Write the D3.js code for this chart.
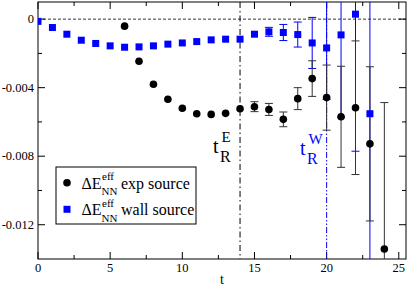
<!DOCTYPE html>
<html><head><meta charset="utf-8">
<script src="https://cdn.jsdelivr.net/npm/d3@7"></script>
<style>body{margin:0;background:#fff}svg{display:block}</style>
</head><body>
<script>
// data
const wallT   = [0,1,2,3,4,5,6,7,8,9,10,11,12,13,14,15,16,17,18,19,20,21,22,23];
const wallVal = [-0.00013,-0.00049,-0.00088,-0.00123,-0.00142,-0.00156,-0.00164,-0.00162,-0.00156,-0.00146,-0.00139,-0.00131,-0.00121,-0.00117,-0.00117,-0.00088,-0.00074,-0.00078,-0.00090,-0.00139,-0.00168,-0.00092,0.00029,-0.00552];
const wallErr = [0.00002,0.00002,0.00002,0.00002,0.00002,0.00003,0.00003,0.00003,0.00004,0.00004,0.00005,0.00005,0.00006,0.00007,0.00008,0.00012,0.00026,0.00047,0.00073,0.00149,0.0030,0.0048,0.0080,0.0095];
const expT   = [6,7,8,9,10,11,12,13,14,15,16,17,18,19,20,21,22,23,24];
const expVal = [-0.00041,-0.00246,-0.0038,-0.00468,-0.0052,-0.00552,-0.00556,-0.0055,-0.00523,-0.00511,-0.00527,-0.00585,-0.00464,-0.00347,-0.00458,-0.00570,-0.00517,-0.00728,-0.01342];
const expErr = [0.00003,0.00004,0.00005,0.00006,0.00007,0.00008,0.0001,0.00012,0.00023,0.00029,0.00035,0.00043,0.00064,0.00104,0.0019,0.00295,0.0039,0.0045,0.00855];
const xTicks = [0,5,10,15,20,25];
const yTicks = [0,-0.004,-0.008,-0.012];
const yTickLabels = ["0","-0.004","-0.008","-0.012"];
const tRE = 14, tRW = 20;

const W = 407, H = 286;
const L = 38, R = 406, T = 2, B = 259;
const FONT = "Liberation Serif";
const svg = d3.select("body").append("svg").attr("width", W).attr("height", H);
const x = d3.scaleLinear().domain([0, 25.5]).range([L, R]);
const y = d3.scaleLinear().domain([-0.014, 0.001]).range([B, T]);
function txt(px, py, size, s, color){
  return svg.append("text").attr("x",px).attr("y",py).attr("font-family",FONT)
    .attr("font-size",size).attr("fill",color||"#000").text(s);
}

svg.append("defs").append("clipPath").attr("id","clip")
  .append("rect").attr("x",L).attr("y",T).attr("width",R-L).attr("height",B-T);

// frame
svg.append("rect").attr("x",L).attr("y",T).attr("width",R-L).attr("height",B-T)
  .attr("fill","none").attr("stroke","#000").attr("stroke-width",1);

// ticks (inward, mirrored)
const xMinor = d3.range(2.5, 25.5, 5);
const yMinor = [-0.002,-0.006,-0.010];
const g = svg.append("g").attr("stroke","#000").attr("stroke-width",1);
xTicks.forEach(v => { g.append("line").attr("x1",x(v)).attr("x2",x(v)).attr("y1",B).attr("y2",B-7);
  g.append("line").attr("x1",x(v)).attr("x2",x(v)).attr("y1",T).attr("y2",T+7); });
xMinor.forEach(v => { g.append("line").attr("x1",x(v)).attr("x2",x(v)).attr("y1",B).attr("y2",B-4);
  g.append("line").attr("x1",x(v)).attr("x2",x(v)).attr("y1",T).attr("y2",T+4); });
yTicks.forEach(v => { g.append("line").attr("y1",y(v)).attr("y2",y(v)).attr("x1",L).attr("x2",L+7);
  g.append("line").attr("y1",y(v)).attr("y2",y(v)).attr("x1",R).attr("x2",R-7); });
yMinor.forEach(v => { g.append("line").attr("y1",y(v)).attr("y2",y(v)).attr("x1",L).attr("x2",L+4);
  g.append("line").attr("y1",y(v)).attr("y2",y(v)).attr("x1",R).attr("x2",R-4); });

// tick labels
xTicks.forEach(v => txt(x(v), 272, 12.5, String(v)).attr("text-anchor","middle"));
yTicks.forEach((v,i) => txt(34, y(v)+4, 12.5, yTickLabels[i]).attr("text-anchor","end"));
txt((L+R)/2, 284, 14, "t").attr("text-anchor","middle");

const plot = svg.append("g").attr("clip-path","url(#clip)");
// zero line
plot.append("line").attr("x1",L).attr("x2",R).attr("y1",y(0)).attr("y2",y(0))
  .attr("stroke","#000").attr("stroke-dasharray","3,2").attr("stroke-width",0.8);
// vertical lines
plot.append("line").attr("x1",x(tRE)).attr("x2",x(tRE)).attr("y1",T).attr("y2",B)
  .attr("stroke","#000").attr("stroke-dasharray","6,3,1.5,3");
plot.append("line").attr("x1",x(tRW)).attr("x2",x(tRW)).attr("y1",T).attr("y2",B)
  .attr("stroke","#0000ff").attr("stroke-dasharray","6,2,1.5,2,1.5,2");

function errBars(ts, vals, errs, color){
  const eg = plot.append("g").attr("stroke",color).attr("stroke-width",1);
  ts.forEach((t,i) => {
    const cx = x(t), y1 = y(vals[i]+errs[i]), y2 = y(vals[i]-errs[i]);
    if (Math.abs(y2-y1) < 8) return;
    eg.append("line").attr("x1",cx).attr("x2",cx).attr("y1",y1).attr("y2",y2);
    eg.append("line").attr("x1",cx-4).attr("x2",cx+4).attr("y1",y1).attr("y2",y1);
    eg.append("line").attr("x1",cx-4).attr("x2",cx+4).attr("y1",y2).attr("y2",y2);
  });
}
errBars(wallT, wallVal, wallErr, "#0000ff");
errBars(expT, expVal, expErr, "#333");

plot.selectAll(".sq").data(wallT).enter().append("rect")
  .attr("x", d => x(d)-3.5).attr("y", (d,i) => y(wallVal[i])-3.5).attr("width",7).attr("height",7).attr("fill","#0000ff");
plot.selectAll(".ci").data(expT).enter().append("circle")
  .attr("cx", d => x(d)).attr("cy", (d,i) => y(expVal[i])).attr("r",3.8).attr("fill","#000");

// annotations
function tR(xp, yb, sup, color){
  txt(xp, yb, 20, "t", color);
  txt(xp+8.5, yb-11.5, 15, sup, color);
  txt(xp+7, yb+8.5, 16, "R", color);
}
tR(213, 153.3, "E", "#000");
tR(300, 155, "W", "#0000ff");

// legend
svg.append("rect").attr("x",56).attr("y",167).attr("width",140).attr("height",57)
  .attr("fill","#fff").attr("stroke","#000").attr("stroke-width",1);
svg.append("circle").attr("cx",67).attr("cy",182.7).attr("r",3.8).attr("fill","#000");
svg.append("rect").attr("x",63.5).attr("y",205.8).attr("width",7).attr("height",7).attr("fill","#0000ff");
function legText(yb, label){
  txt(81.5, yb, 16, "ΔE");
  txt(102, yb-8.5, 11, "eff");
  txt(101.5, yb+6.5, 11, "NN");
  txt(121, yb, 16, label);
}
legText(188.5, "exp source");
legText(215, "wall source");
</script>
</body></html>
